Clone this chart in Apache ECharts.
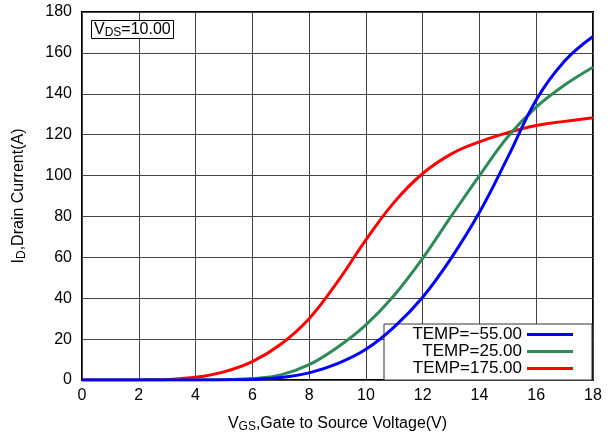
<!DOCTYPE html>
<html>
<head>
<meta charset="utf-8">
<script src="https://cdn.jsdelivr.net/npm/echarts@6/dist/echarts.min.js"></script>
<style>html,body{margin:0;padding:0;background:#fff;}#c{width:613px;height:438px;}</style>
</head>
<body>
<div id="c"></div>
<script>
var vgs = [0,1,2,3,4,5,6,7,8,9,10,11,12,13,14,15,16,17,18];
var seriesNames = ['TEMP=\u221255.00', 'TEMP=25.00', 'TEMP=175.00'];
var idMinus55 = [0,0,0,0,0,0.05,0.3,1.2,3.5,8,15,26,40.5,59.5,82,109,137,156,168];
var id25 = [0,0,0,0,0.05,0.2,0.7,2.5,7.5,16,27,41.5,59.5,80,100,119,133.5,144.3,153];
var id175 = [0,0,0.05,0.3,1.3,4,9,17.5,30,48,68.5,87,101,110.5,116.5,121,124.5,126.5,128.3];
var xTicks = [0,2,4,6,8,10,12,14,16,18];
var yTicks = [0,20,40,60,80,100,120,140,160,180];
var colors = ['#0000ff', '#2e8b57', '#ff0000'];

function pairs(ys){ return vgs.map(function(x,i){ return [x, ys[i]]; }); }
var FONT = '"Liberation Sans", Arial, Helvetica, sans-serif';

var chart = echarts.init(document.getElementById('c'), null, {renderer:'canvas'});
var allData = [idMinus55, id25, id175];
chart.setOption({
  animation: false,
  backgroundColor: '#fff',
  textStyle: {fontFamily: FONT},
  title: {
    text: '{v|V}{s|DS}{v|=10.00}',
    left: 91, top: 19,
    padding: [1, 3, 0, 3],
    borderColor: '#000', borderWidth: 1,
    backgroundColor: '#fff',
    textStyle: {
      fontWeight: 'normal',
      rich: {
        v: {fontSize: 16, color: '#000', fontFamily: FONT, fontWeight: 'normal', lineHeight: 18},
        s: {fontSize: 12, color: '#000', fontFamily: FONT, fontWeight: 'normal', padding: [7,0,0,0]}
      }
    }
  },
  grid: {
    left: 82, right: 20, top: 12, bottom: 58,
    show: true, borderColor: '#000', borderWidth: 2, backgroundColor: 'transparent'
  },
  legend: {
    orient: 'vertical',
    right: 21, bottom: 58,
    align: 'right',
    icon: 'rect',
    itemWidth: 46, itemHeight: 3,
    itemGap: 0,
    padding: [2, 19, 3, 4],
    borderColor: '#333', borderWidth: 1,
    backgroundColor: '#fff',
    data: seriesNames,
    formatter: function(n){ return '{t|' + n + '}'; },
    textStyle: {
      rich: {
        t: {width: 134, align: 'right', fontSize: 17, lineHeight: 16, color: '#000', fontFamily: FONT}
      }
    }
  },
  xAxis: {
    type: 'value', min: 0, max: 18, interval: 2,
    name: '{n|V}{s|GS}{n|,Gate to Source Voltage(V)}',
    nameLocation: 'middle', nameGap: 34,
    nameTextStyle: {
      rich: {
        n: {fontSize: 16, color: '#000', fontFamily: FONT},
        s: {fontSize: 12, color: '#000', fontFamily: FONT, padding: [7,0,0,0]}
      }
    },
    axisLine: {show: false},
    axisTick: {show: false},
    axisLabel: {fontSize: 16, color: '#000', margin: 8, fontFamily: FONT,
      customValues: xTicks},
    splitLine: {show: true, lineStyle: {color: '#444', width: 1}}
  },
  yAxis: {
    type: 'value', min: 0, max: 180, interval: 20,
    name: '{n|I}{s|D}{n|,Drain Current(A)}',
    nameLocation: 'middle', nameGap: 54,
    nameTextStyle: {
      rich: {
        n: {fontSize: 16, color: '#000', fontFamily: FONT},
        s: {fontSize: 12, color: '#000', fontFamily: FONT, padding: [7,0,0,0]}
      }
    },
    axisLine: {show: false},
    axisTick: {show: false},
    axisLabel: {fontSize: 16, color: '#000', margin: 10, fontFamily: FONT,
      customValues: yTicks},
    splitLine: {show: true, lineStyle: {color: '#444', width: 1}}
  },
  series: seriesNames.map(function(n, i){
    return {
      name: n, type: 'line', data: pairs(allData[i]),
      smooth: 0.4, showSymbol: false, symbol: 'none',
      lineStyle: {color: colors[i], width: 3},
      itemStyle: {color: colors[i]},
      z: 3 + (2 - i)
    };
  })
});
</script>
</body>
</html>
